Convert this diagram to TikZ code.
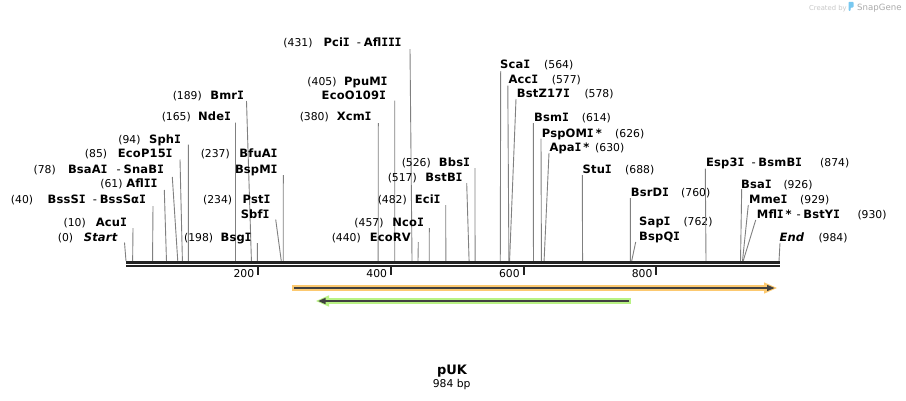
\documentclass[tikz,border=0pt]{standalone}
\usepackage{fontspec}
\setmainfont{DejaVu Sans}
\newfontfamily\monoI{DejaVu Sans Mono}
\definecolor{sitegray}{RGB}{128,128,128}
\definecolor{barcol}{RGB}{34,34,34}
\definecolor{orangeL}{RGB}{252,201,112}
\definecolor{greenL}{RGB}{185,242,132}
\definecolor{featdark}{RGB}{64,64,64}
\definecolor{logogray}{RGB}{170,170,170}
\definecolor{logolight}{RGB}{200,200,200}
\definecolor{logoblue}{RGB}{120,200,240}
\newcommand{\namefont}{\fontsize{11.5}{13}\selectfont\bfseries\addfontfeature{LetterSpace=1.5}}
\newcommand{\numfont}{\fontsize{10.8}{12}\selectfont}
\newcommand{\II}{\makebox[0.58em]{\monoI I}}
\newcommand{\dsh}{\hspace{7.2pt}{\mdseries-}\hspace{2.8pt}}
% left label: id, name right x, number right x, baseline, name, number, line top x, line top y, bp
\newcommand{\enzL}[9]{%
  \node[nm,anchor=base east] (n#1) at (#2,#4) {#5};
  \node[num,anchor=base east] (c#1) at (#3,#4) {#6};
  \coordinate (t#1) at (#7,#8);
  \coordinate (b#1) at ({126+#9*0.66362},261);
  \draw[site] (t#1) -- (b#1);}
% right label: id, name left x, number left x, baseline, name, number, line top x, line top y, bp
\newcommand{\enzR}[9]{%
  \node[nm,anchor=base west] (n#1) at (#2,#4) {#5};
  \node[num,anchor=base west] (c#1) at (#3,#4) {#6};
  \coordinate (t#1) at (#7,#8);
  \coordinate (b#1) at ({126+#9*0.66362},261);
  \draw[site] (t#1) -- (b#1);}
\begin{document}
\begin{tikzpicture}[x=1pt,y=-1pt,
  nm/.style={font=\namefont,inner sep=0pt},
  num/.style={font=\numfont,inner sep=0pt},
  site/.style={draw=sitegray,line width=0.9pt},
  tick/.style={draw=barcol,line width=2pt}]
\fill[white] (0,0) rectangle (906,400);
\path[use as bounding box] (0,0) rectangle (906,400);

% left-hand labels
\enzL{Start}{118}{73.3}{241}{\textit{Start}}{(0)}{124.5}{242.5}{0}
\enzL{AcuI}{127}{86}{226}{Acu\II}{(10)}{133}{228}{10}
\enzL{BssSI}{146}{33.3}{203.3}{BssS\II\dsh BssSα\II}{(40)}{153}{206}{40}
\enzL{AflII}{157.5}{122.7}{187.7}{Afl\II\II}{(61)}{164.3}{190}{61}
\enzL{SnaBI}{164}{56}{173.3}{BsaA\II\hspace{2pt}\dsh SnaB\II}{(78)}{172.3}{177}{78}
\enzL{EcoP}{172.7}{107.3}{157.7}{EcoP15\II}{(85)}{180}{159.5}{85}
\enzL{SphI}{181}{140.7}{143.3}{Sph\II}{(94)}{188.3}{144.5}{94}
\enzL{NdeI}{231}{191}{120.5}{Nde\II}{(165)}{235.5}{122.5}{165}
\enzL{BmrI}{244}{202}{99}{Bmr\II}{(189)}{246.5}{101}{189}
\enzL{BfuAI}{277.7}{230}{157.7}{BfuA\II}{(237)}{283.3}{175}{237}
\node[nm,anchor=base east] (nBspMI) at (277.7,173.3) {BspM\II};
\enzL{PstI}{270.5}{232.3}{203.3}{Pst\II}{(234)}{275.7}{219.5}{234}
\node[nm,anchor=base east] (nSbfI) at (269.5,218.3) {Sbf\II};
\enzL{BsgI}{251.7}{213.3}{241}{Bsg\II}{(198)}{257.3}{243}{198}
\enzL{PciI}{401.7}{312.7}{46}{Pci\II\dsh Afl\II\II\II}{(431)}{410}{49}{431}
\enzL{PpuMI}{387.7}{336.7}{85}{PpuM\II}{(405)}{394.7}{100.5}{405}
\node[nm,anchor=base east] (nEcoO) at (386,99.3) {EcoO109\II};
\enzL{XcmI}{371.7}{329}{120.7}{Xcm\II}{(380)}{378.3}{123}{380}
\enzL{BbsI}{470}{431}{166}{Bbs\II}{(526)}{475}{168}{526}
\enzL{BstBI}{462.7}{417}{181}{BstB\II}{(517)}{466.7}{183}{517}
\enzL{EciI}{440.7}{407}{203.3}{Eci\II}{(482)}{445.7}{205}{482}
\enzL{NcoI}{424}{383.7}{226}{Nco\II}{(457)}{429.3}{228}{457}
\enzL{EcoRV}{411}{361}{241.5}{EcoRV}{(440)}{418.3}{242}{440}

% right-hand labels
\enzR{ScaI}{500}{544}{68.3}{Sca\II}{(564)}{500.7}{71}{564}
\enzR{AccI}{508.3}{551.7}{83.3}{Acc\II}{(577)}{507.8}{85.5}{577}
\enzR{BstZ}{516.7}{584.3}{97.7}{BstZ17\II}{(578)}{516}{99}{578}
\enzR{BsmI}{534}{581.7}{121}{Bsm\II}{(614)}{533.3}{123}{614}
\enzR{PspOMI}{541.7}{615}{137}{PspOM\II\hspace{2pt}*}{(626)}{541}{138.5}{626}
\enzR{ApaI}{549.3}{595}{151.7}{Apa\II\hspace{2pt}*}{(630)}{549}{153}{630}
\enzR{StuI}{582.5}{625}{173.3}{Stu\II}{(688)}{582.3}{175}{688}
\enzR{BsrDI}{630.7}{681}{196}{BsrD\II}{(760)}{630.3}{198}{760}
\enzR{SapI}{639}{683.3}{225.5}{Sap\II}{(762)}{635.7}{242}{762}
\node[nm,anchor=base west] (nBspQI) at (639,240.5) {BspQ\II};
\enzR{Esp3I}{706}{820}{166.5}{Esp3\II\dsh BsmB\II}{(874)}{705.3}{168.5}{874}
\enzR{BsaI}{741}{783.3}{188}{Bsa\II}{(926)}{741.7}{189}{926}
\enzR{MmeI}{749}{800}{203.3}{Mme\II}{(929)}{748.3}{205}{929}
\enzR{MflI}{756.7}{857.3}{218.3}{Mfl\II\hspace{2pt}*\hspace{5pt}{\mdseries-}\hspace{2.5pt}BstY\II}{(930)}{755.7}{220}{930}
\enzR{End}{779.3}{818.3}{241}{\textit{End}}{(984)}{780}{243}{984}

% sequence bar
\coordinate (barL1) at (126,262.5);
\coordinate (barR1) at (780,262.5);
\coordinate (barL2) at (126,266.2);
\coordinate (barR2) at (780,266.2);
\draw[draw=barcol,line width=2.8pt] (barL1) -- (barR1);
\draw[draw=barcol,line width=2.2pt] (barL2) -- (barR2);

% scale ticks
\foreach \v/\xx in {200/258.2,400/391.0,600/523.7,800/656.4}{
  \draw[tick] (\xx,267) -- (\xx,274.5);
  \node[num,anchor=base east] (k\v) at (\xx-3.8,277.8) {\v};
}

% features
\coordinate (oA) at (292.3,288);
\coordinate (oB) at (770,288);
\fill[orangeL] (292.3,285) rectangle (770,291);
\fill[orangeL] (764,282.3) -- (777,288) -- (764,293.7) -- cycle;
\draw[draw=featdark,line width=2pt] (294,288) -- (768,288);
\fill[featdark] (767,284.8) -- (774.5,288) -- (767,291.2) -- cycle;

\coordinate (gA) at (322,301);
\coordinate (gB) at (630.7,301);
\fill[greenL] (322,298) rectangle (630.7,304);
\fill[greenL] (329,295.3) -- (316,301) -- (329,306.7) -- cycle;
\draw[draw=featdark,line width=2pt] (324,301) -- (629,301);
\fill[featdark] (325.5,297.8) -- (318.3,301) -- (325.5,304.2) -- cycle;

% title
\node[font=\fontsize{13}{15}\selectfont\bfseries,inner sep=0pt,anchor=base] (title) at (452,374.5) {pUK};
\node[font=\fontsize{10.8}{12}\selectfont,inner sep=0pt,anchor=base] (size) at (451.7,387) {984 bp};

% credit
\node[font=\fontsize{6.8}{8}\selectfont,text=logolight,inner sep=0pt,anchor=base west] (cred) at (809,10) {Created by};
\fill[logoblue,rounded corners=0.8pt] (848.5,1.8) -- (853.5,1.8) -- (853.5,7.5) -- (850.5,7.5) -- (850.5,10.8) -- (848.5,10.8) -- cycle;
\node[font=\fontsize{8.6}{10}\selectfont,text=logogray,inner sep=0pt,anchor=base west] (sg) at (857,10) {SnapGene};
\end{tikzpicture}
\end{document}
